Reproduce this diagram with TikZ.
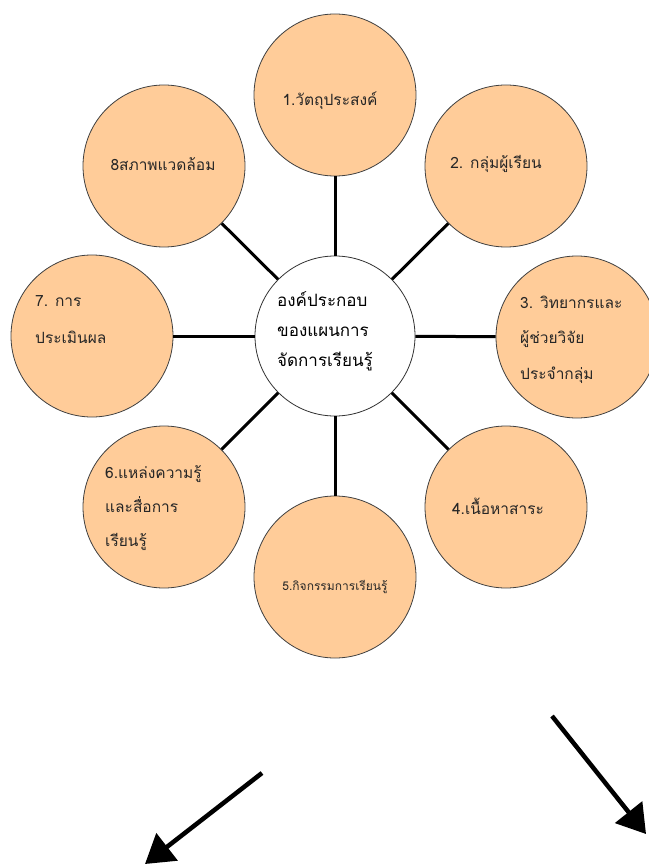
\documentclass[tikz,border=0pt]{standalone}
\usepackage{fontspec}
\newfontfamily\thai[Script=Thai]{Loma}
\usetikzlibrary{arrows.meta}
\definecolor{peach}{HTML}{FFCC99}
\begin{document}
\begin{tikzpicture}[x=1pt,y=-1pt,
  outer/.style={circle, draw=black!75, line width=0.8pt, fill=peach, minimum size=162pt, inner sep=0pt},
  hub/.style={circle, draw=black!80, line width=0.8pt, fill=white, minimum size=160pt, inner sep=0pt},
  spoke/.style={line width=3pt, black},
  lbl/.style={font=\thai\fontsize{15.5}{35.5}\selectfont, align=left, inner sep=0pt, text=black!85},
  hublbl/.style={font=\thai\fontsize{17}{30}\selectfont, align=left, inner sep=0pt, text=black},
  bigarrow/.style={line width=4.5pt, -{Triangle[length=28pt,width=34pt]}}]
\useasboundingbox (0,0) rectangle (648,866);
% nodes
\node[hub] (c) at (335,336) {};
\node[outer] (o1) at (335,95) {};
\node[outer] (o2) at (506,166) {};
\node[outer] (o3) at (577,337) {};
\node[outer] (o4) at (506,507) {};
\node[outer] (o5) at (335,577) {};
\node[outer] (o6) at (164,507) {};
\node[outer] (o7) at (92,336) {};
\node[outer] (o8) at (164,166) {};
% spokes
\foreach \o in {o1,o2,o3,o4,o5,o6,o7,o8} \draw[spoke] (c) -- (\o);
% labels (base west = baseline of the last line)
\node[hublbl, anchor=base west] (tc) at (277,366) {องค์ประกอบ\\ของแผนการ\\จัดการเรียนรู้};
\node[lbl] (t1) at (330,101) {1.วัตถุประสงค์};
\node[lbl] (t2) at (496,164) {2. กลุ่มผู้เรียน};
\node[lbl, anchor=base west] (t3) at (520,379) {3. วิทยากรและ\\ผู้ช่วยวิจัย\\ประจำกลุ่ม};
\node[lbl] (t4) at (498,506) {4.เนื้อหาสาระ};
\node[lbl, font=\thai\fontsize{12}{20}\selectfont] (t5) at (335,587) {5.กิจกรรมการเรียนรู้};
\node[lbl, anchor=base west, font=\thai\fontsize{15.5}{34}\selectfont] (t6) at (105,546) {6.แหล่งความรู้\\และสื่อการ\\เรียนรู้};
\node[lbl, anchor=base west, font=\thai\fontsize{15.5}{37}\selectfont] (t7) at (35,343) {7. การ\\ประเมินผล};
\node[lbl] (t8) at (163,164) {8สภาพแวดล้อม};
% arrows
\coordinate (a1s) at (262,773);
\coordinate (a1e) at (145,864);
\coordinate (a2s) at (552,716);
\coordinate (a2e) at (646,834);
\draw[bigarrow] (a1s) -- (a1e);
\draw[bigarrow] (a2s) -- (a2e);
\end{tikzpicture}
\end{document}
